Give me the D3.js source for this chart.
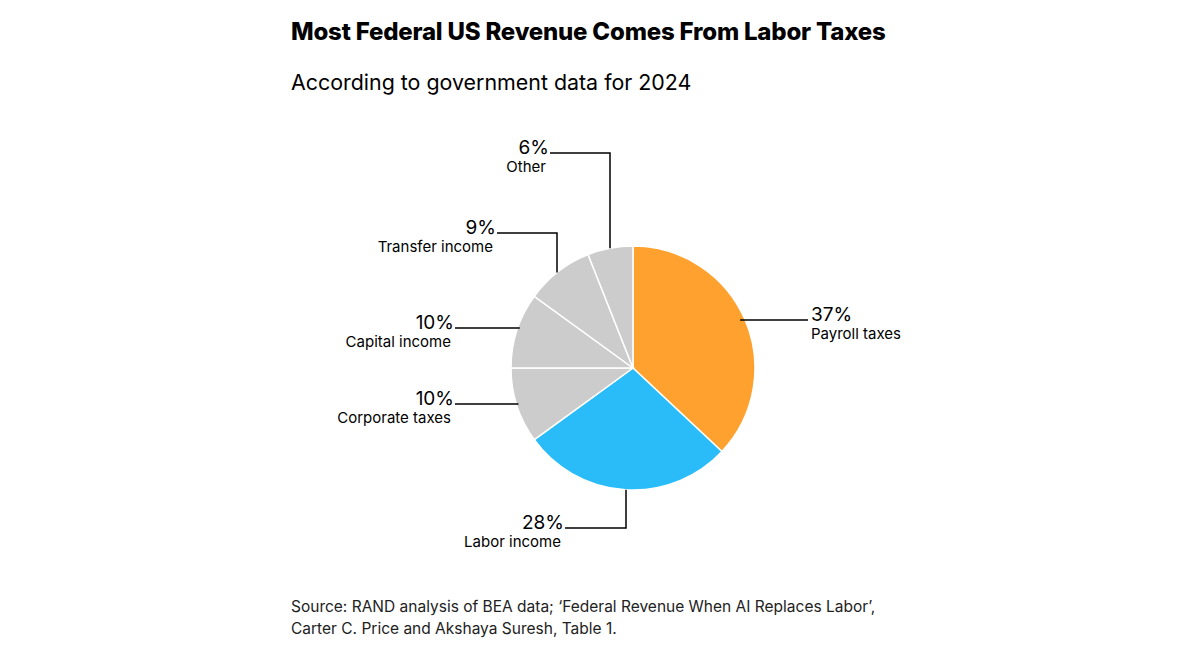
<!DOCTYPE html>
<html><head><meta charset="utf-8">
<script src="https://cdn.jsdelivr.net/npm/d3@7"></script>
<style>body{margin:0;background:#fff;font-family:Inter,"Liberation Sans",Arial,sans-serif}</style>
</head><body><svg id="c" width="1200" height="669"></svg>
<script>
const categories=["Payroll taxes","Labor income","Corporate taxes","Capital income","Transfer income","Other"];
const values=[37,28,10,10,9,6];
const labels=["37%","28%","10%","10%","9%","6%"];
const colors=["#FFA12E","#29BCF8","#CCCCCC","#CCCCCC","#CCCCCC","#CCCCCC"];
const layout=[
 {ex:null,ey:null,x:808,y:320,anchor:"start"},
 {ex:626,ey:528,x:565,y:528,anchor:"end"},
 {ex:null,ey:null,x:455,y:404,anchor:"end"},
 {ex:null,ey:null,x:455,y:328,anchor:"end"},
 {ex:557,ey:233,x:497,y:233,anchor:"end"},
 {ex:610,ey:153,x:550,y:153,anchor:"end"}];
const svg=d3.select("#c");
svg.append("text").attr("x",291).attr("y",40).attr("font-size",24).attr("font-weight",800).attr("letter-spacing",-0.2).attr("fill","#000").text("Most Federal US Revenue Comes From Labor Taxes");
svg.append("text").attr("x",291).attr("y",90).attr("font-size",21.4).attr("fill","#000").text("According to government data for 2024");
const cx=633,cy=368,r=122;
const g=svg.append("g").attr("transform",`translate(${cx},${cy})`);
const pie=d3.pie().sort(null).value(d=>d)(values);
const arc=d3.arc().innerRadius(0).outerRadius(r);
g.selectAll("path").data(pie).join("path").attr("d",arc).attr("fill",(d,i)=>colors[i]).attr("stroke","#fff").attr("stroke-width",1.5);
pie.forEach((d,i)=>{
  const L=layout[i];
  let sx,sy;
  if(L.ex!==null){
    const dx=L.ex-cx; const dy=Math.sqrt(r*r-dx*dx); sx=L.ex; sy=cy+(L.ey>cy?dy:-dy);
  } else {
    const dy=L.y-cy; const dx=Math.sqrt(r*r-dy*dy); sy=L.y; sx=cx+(L.x>cx?dx:-dx);
    if(L.x>cx) sx-=5; else sx+=2;
  }
  const pts=L.ex!==null?[[sx,sy],[L.ex,L.ey],[L.x,L.y]]:[[sx,sy],[L.x,L.y]];
  svg.append("path").attr("d",d3.line()(pts)).attr("fill","none").attr("stroke","#000").attr("stroke-width",1.5);
  const tx=L.anchor==="start"?L.x+3:L.x-1;
  svg.append("text").attr("x",tx).attr("y",L.y+1).attr("text-anchor",L.anchor).attr("font-size",19).attr("fill","#000").text(labels[i]);
  svg.append("text").attr("x",L.anchor==="start"?L.x+3:L.x-4).attr("y",L.y+19).attr("text-anchor",L.anchor).attr("font-size",15).attr("fill","#000").text(categories[i]);
});
svg.append("text").attr("x",291).attr("y",612).attr("font-size",15.5).attr("fill","#222").text("Source: RAND analysis of BEA data; ‘Federal Revenue When AI Replaces Labor’,");
svg.append("text").attr("x",291).attr("y",634).attr("font-size",15.5).attr("fill","#222").text("Carter C. Price and Akshaya Suresh, Table 1.");
</script></body></html>
